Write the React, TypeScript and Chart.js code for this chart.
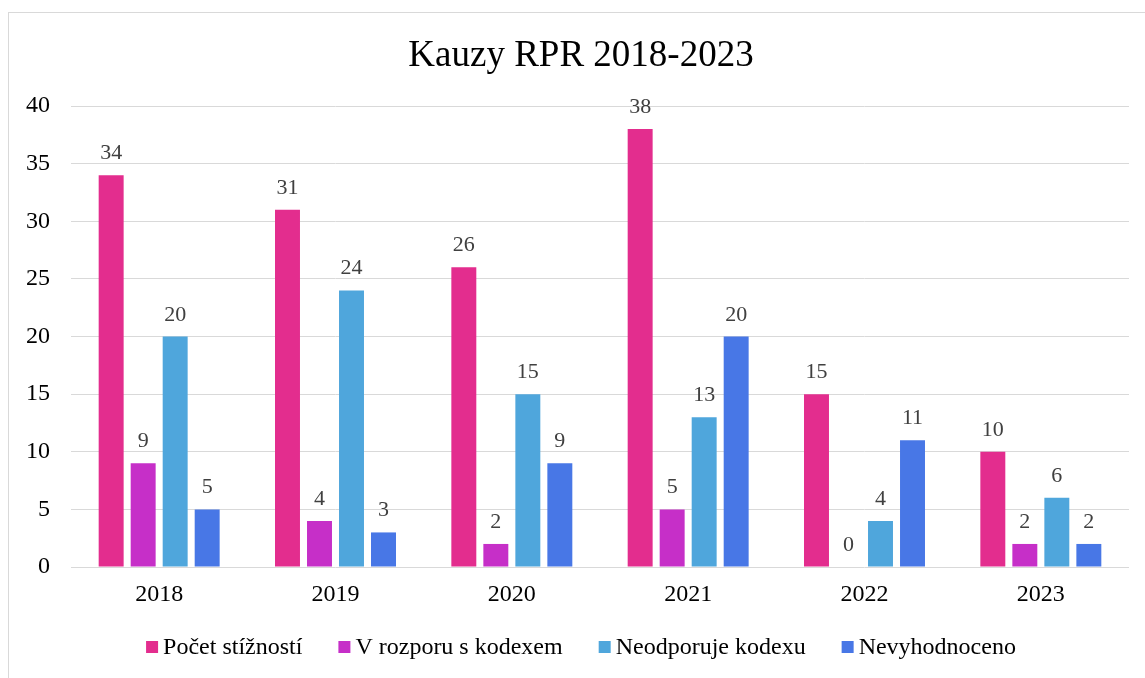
import { useEffect, useRef } from "react";
import { Chart, registerables } from "chart.js";

Chart.register(...registerables);

const years = ["2018", "2019", "2020", "2021", "2022", "2023"];
const pocetStiznosti = [34, 31, 26, 38, 15, 10];
const vRozporuSKodexem = [9, 4, 2, 5, 0, 2];
const neodporujeKodexu = [20, 24, 15, 13, 4, 6];
const nevyhodnoceno = [5, 3, 9, 20, 11, 2];
const seriesLabels = ["Počet stížností", "V rozporu s kodexem", "Neodporuje kodexu", "Nevyhodnoceno"];
const seriesColors = ["#E32D8E", "#C62FC8", "#4FA6DC", "#4877E6"];
const yMin = 0;
const yMax = 40;
const yStep = 5;
const titleText = "Kauzy RPR 2018-2023";

const FONT = '"Liberation Serif", "Times New Roman", serif';

const valueLabels = {
  id: "valueLabels",
  afterDatasetsDraw(chart: any) {
    const ctx = chart.ctx;
    ctx.save();
    ctx.font = `22px ${FONT}`;
    ctx.fillStyle = "#404040";
    ctx.textAlign = "center";
    ctx.textBaseline = "alphabetic";
    chart.data.datasets.forEach((ds: any, i: number) => {
      const meta = chart.getDatasetMeta(i);
      meta.data.forEach((bar: any, j: number) => {
        ctx.fillText(String(ds.data[j]), bar.x, bar.y - 16);
      });
    });
    ctx.restore();
  },
};

const customLegend = {
  id: "customLegend",
  afterDraw(chart: any) {
    const ctx = chart.ctx;
    ctx.save();
    ctx.font = `24px ${FONT}`;
    ctx.textBaseline = "middle";
    ctx.textAlign = "left";
    const box = 12;
    const gap = 5;
    const itemGap = 36;
    const items = chart.data.datasets.map((ds: any) => ({
      text: ds.label,
      color: ds.backgroundColor,
      w: box + gap + ctx.measureText(ds.label).width,
    }));
    const total = items.reduce((s: number, it: any) => s + it.w, 0) + itemGap * (items.length - 1);
    let x = chart.width / 2 - total / 2;
    const cy = 635;
    items.forEach((it: any) => {
      ctx.fillStyle = it.color;
      ctx.fillRect(x, cy - box / 2, box, box);
      ctx.fillStyle = "#000000";
      ctx.fillText(it.text, x + box + gap, cy + 1);
      x += it.w + itemGap;
    });
    ctx.restore();
  },
};

export default function App() {
  const ref = useRef<HTMLCanvasElement | null>(null);

  useEffect(() => {
    if (!ref.current) return;
    const data = [pocetStiznosti, vRozporuSKodexem, neodporujeKodexu, nevyhodnoceno];
    const chart = new Chart(ref.current, {
      type: "bar",
      data: {
        labels: years,
        datasets: data.map((d, i) => ({
          label: seriesLabels[i],
          data: d,
          backgroundColor: seriesColors[i],
          borderWidth: 0,
          barPercentage: 0.78,
          categoryPercentage: 0.726,
          yAxisID: "y",
        })),
      },
      options: {
        responsive: false,
        animation: false,
        layout: { padding: { left: 0, right: 0, top: 0, bottom: 69 } },
        plugins: {
          legend: { display: false },
          tooltip: { enabled: false },
          title: {
            display: true,
            text: titleText,
            color: "#000000",
            font: { family: FONT, size: 37, weight: "normal", lineHeight: 1.2 },
            padding: { top: 22, bottom: 27.6 },
          },
        },
        scales: {
          x: {
            grid: { display: false, drawTicks: false },
            border: { display: false },
            ticks: { color: "#000000", font: { family: FONT, size: 24 }, padding: 13 },
            afterFit: (s: any) => {
              s.height = 42;
            },
          },
          y: {
            min: yMin,
            max: yMax,
            grid: { color: "#D9D9D9", lineWidth: 1, drawTicks: false },
            border: { display: false },
            ticks: { stepSize: yStep, color: "#000000", font: { family: FONT, size: 24 }, padding: 21 },
            afterFit: (s: any) => {
              s.width = 62;
            },
          },
          ySpacer: {
            position: "right",
            display: true,
            grid: { display: false, drawTicks: false },
            border: { display: false },
            ticks: { display: false },
            afterFit: (s: any) => {
              s.width = 24;
            },
          },
        },
      },
      plugins: [valueLabels, customLegend],
    });
    return () => chart.destroy();
  }, []);

  return (
    <div style={{ position: "fixed", left: 0, top: 0, width: "100vw", height: "100vh", overflow: "hidden", background: "#fff" }}>
      <canvas ref={ref} width={1144} height={666} style={{ position: "absolute", left: 9, top: 12, width: 1144, height: 666 }} />
      <div
        style={{
          position: "absolute",
          left: 8,
          top: 12,
          width: 1300,
          height: 800,
          border: "1px solid #D9D9D9",
          pointerEvents: "none",
        }}
      />
    </div>
  );
}
